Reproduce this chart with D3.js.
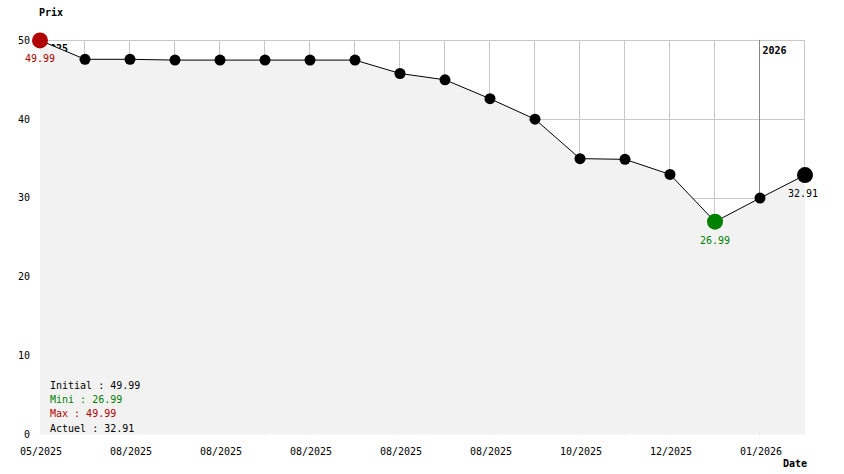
<!DOCTYPE html>
<html><head><meta charset="utf-8">
<script src="https://cdn.jsdelivr.net/npm/d3@7"></script>
<style>body{margin:0;background:#fff}svg{display:block}text{font-family:"DejaVu Sans Mono",monospace;font-size:10px}</style>
</head><body><svg id="c" width="844" height="474"></svg>
<script>
const prices = [49.99,47.59,47.59,47.49,47.49,47.49,47.49,47.49,45.79,44.99,42.59,39.99,34.99,34.9,32.99,26.99,29.99,32.91];
const tickIdx = [0,2,4,6,8,10,12,14,16];
const tickLabels = ["05/2025","08/2025","08/2025","08/2025","08/2025","08/2025","10/2025","12/2025","01/2026"];
const yTicks = [0,10,20,30,40,50];
const years = [{i:0,label:"2025"},{i:16,label:"2026"}];
const legend = [{t:"Initial : 49.99",c:"#000"},{t:"Mini : 26.99",c:"#008000"},{t:"Max : 49.99",c:"#b00000"},{t:"Actuel : 32.91",c:"#000"}];

const svg = d3.select("#c");
const x = d3.scaleLinear().domain([0, prices.length-1]).range([40, 805]);
const y = d3.scaleLinear().domain([0, 50]).range([434.5, 40.3]);
const idx = d3.range(prices.length);

// grid
svg.append("g").selectAll("line").data(yTicks.filter(d=>d>0)).join("line")
  .attr("x1",40).attr("x2",805).attr("y1",d=>Math.round(y(d))+0.5).attr("y2",d=>Math.round(y(d))+0.5)
  .attr("stroke","#c8c8c8");
svg.append("g").selectAll("line").data(idx.slice(1)).join("line")
  .attr("x1",d=>Math.round(x(d))-0.5).attr("x2",d=>Math.round(x(d))-0.5).attr("y1",40).attr("y2",434.5)
  .attr("stroke",d=>years.some(v=>v.i===d)?"#888":"#c8c8c8");

// year labels (drawn under the area fill, as in the reference)
svg.append("g").selectAll("text").data(years).join("text")
  .attr("x",d=>x(d.i)+(d.i===0?4:2.5)).attr("y",d=>d.i===0?52:53.5).attr("font-weight","bold").text(d=>d.label);

// area
svg.append("path").datum(idx)
  .attr("d", d3.area().x(i=>x(i)).y0(y(0)).y1(i=>y(prices[i])))
  .attr("fill","#f2f2f2");

// line
svg.append("path").datum(idx)
  .attr("d", d3.line().x(i=>x(i)).y(i=>y(prices[i])))
  .attr("fill","none").attr("stroke","#000").attr("stroke-width",1);

// points
const minI = prices.indexOf(d3.min(prices)), maxI = prices.indexOf(d3.max(prices)), last = prices.length-1;
svg.append("g").selectAll("circle").data(idx).join("circle")
  .attr("cx",i=>x(i)).attr("cy",i=>y(prices[i]))
  .attr("r",i=>(i===minI||i===maxI||i===last)?8:5.5)
  .attr("fill",i=>i===minI?"#008000":i===maxI?"#b00000":"#000");

// value labels
const vl = [{i:maxI,c:"#b00000",dx:0},{i:minI,c:"#008000",dx:0},{i:last,c:"#000",dx:-2}];
svg.append("g").selectAll("text").data(vl).join("text")
  .attr("x",d=>x(d.i)+d.dx).attr("y",d=>y(prices[d.i])+22).attr("text-anchor","middle")
  .attr("fill",d=>d.c).text(d=>prices[d.i].toFixed(2));

// axes labels
svg.append("g").selectAll("text").data(yTicks).join("text")
  .attr("x",30).attr("y",d=>y(d)+3.5).attr("text-anchor","end").text(d=>d);
svg.append("g").selectAll("text").data(tickIdx).join("text")
  .attr("x",d=>x(d)+1).attr("y",455).attr("text-anchor","middle").text((d,k)=>tickLabels[k]);
svg.append("text").attr("x",39).attr("y",16).attr("font-weight","bold").text("Prix");
svg.append("text").attr("x",783).attr("y",467).attr("font-weight","bold").text("Date");

// legend
svg.append("g").selectAll("text").data(legend).join("text")
  .attr("x",50).attr("y",(d,k)=>389+k*14.2).attr("fill",d=>d.c).text(d=>d.t);
</script></body></html>
